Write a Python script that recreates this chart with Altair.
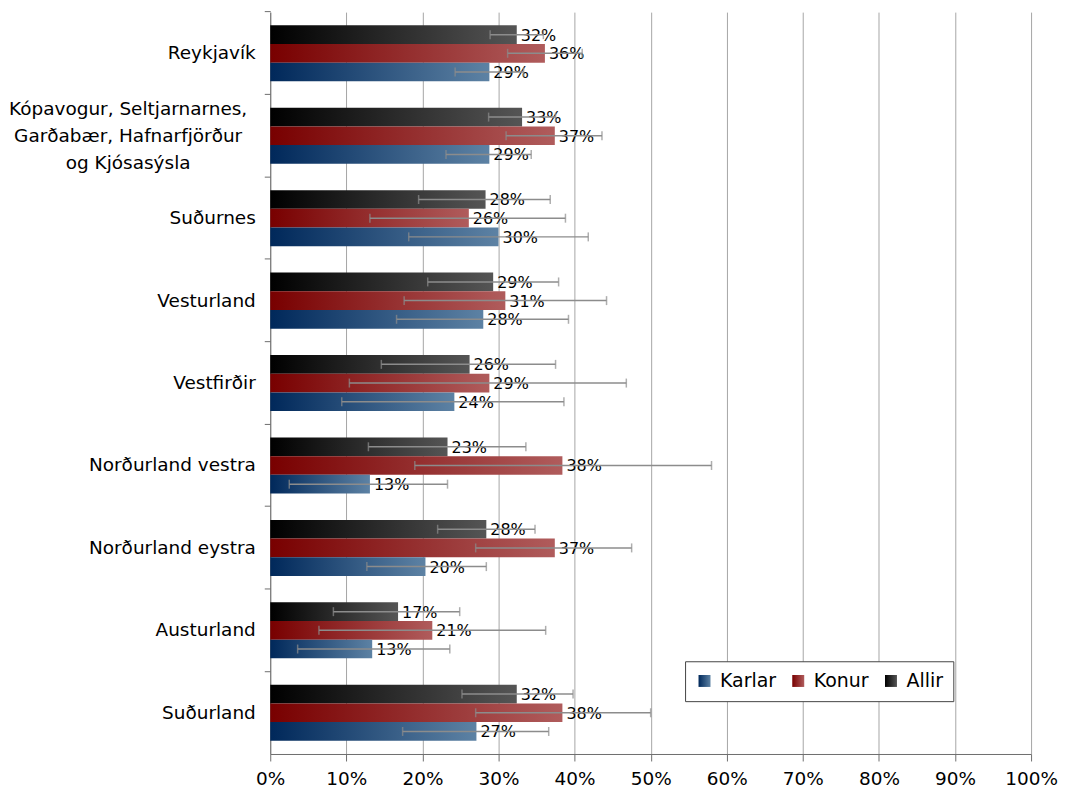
import altair as alt
import pandas as pd

regions = [
    "Reykjavík",
    "Kópavogur, Seltjarnarnes,\nGarðabær, Hafnarfjörður\nog Kjósasýsla",
    "Suðurnes",
    "Vesturland",
    "Vestfirðir",
    "Norðurland vestra",
    "Norðurland eystra",
    "Austurland",
    "Suðurland",
]
series_order = ["Allir", "Konur", "Karlar"]
legend_order = ["Karlar", "Konur", "Allir"]

allir = [32.4, 33.1, 28.3, 29.3, 26.2, 23.3, 28.4, 16.8, 32.4]
allir_lo = [28.9, 28.7, 19.5, 20.7, 14.6, 12.9, 22.0, 8.3, 25.2]
allir_hi = [35.9, 37.5, 36.8, 37.9, 37.5, 33.6, 34.8, 24.9, 39.8]

konur = [36.1, 37.4, 26.1, 30.9, 28.8, 38.4, 37.4, 21.3, 38.4]
konur_lo = [31.2, 31.0, 13.1, 17.6, 10.4, 19.0, 27.0, 6.4, 27.0]
konur_hi = [41.0, 43.6, 38.8, 44.2, 46.8, 58.0, 47.5, 36.2, 50.0]

karlar = [28.8, 28.8, 30.0, 28.0, 24.2, 13.1, 20.4, 13.4, 27.1]
karlar_lo = [24.3, 23.1, 18.2, 16.6, 9.4, 2.5, 12.7, 3.6, 17.4]
karlar_hi = [33.3, 34.3, 41.8, 39.2, 38.6, 23.3, 28.4, 23.6, 36.6]

x_ticks = [0, 10, 20, 30, 40, 50, 60, 70, 80, 90, 100]

rows = []
for i, r in enumerate(regions):
    for s, v, lo, hi in (
        ("Allir", allir, allir_lo, allir_hi),
        ("Konur", konur, konur_lo, konur_hi),
        ("Karlar", karlar, karlar_lo, karlar_hi),
    ):
        rows.append({"region": r, "series": s, "value": v[i], "lo": lo[i], "hi": hi[i]})
df = pd.DataFrame(rows)


def grad(c0, c1):
    return {
        "expr": "{gradient: 'linear', x1: 0, y1: 0, x2: 1, y2: 0, stops: "
        "[{offset: 0, color: '%s'}, {offset: 1, color: '%s'}]}" % (c0, c1)
    }


color_range = [
    grad("#00285a", "#5d82a4"),  # Karlar
    grad("#780000", "#b05c5c"),  # Konur
    grad("#000000", "#555555"),  # Allir
]

FONT = "DejaVu Sans"
GRID = "#a6a6a6"
AXISC = "#6e6e6e"
ERR = "#8c8c8c"

PAD_INNER = 0.32
PAD_OUTER = 0.16
TICK_POS = -(PAD_INNER / 2) / (1 - PAD_INNER)

xaxis = alt.Axis(
    values=x_ticks,
    labelExpr="datum.value + '%'",
    title=None,
    grid=True,
    gridColor=GRID,
    gridWidth=1,
    domainColor=AXISC,
    tickColor=AXISC,
    tickSize=7,
    labelFont=FONT,
    labelFontSize=18.5,
    labelColor="#000000",
    labelPadding=9,
    labelFlush=False,
    labelAlign="center",
)
xscale = alt.Scale(domain=[0, 100], nice=False, zero=True)

is_multi = "indexof(datum.value, 'Kópavogur') >= 0"

yaxis = alt.Axis(
    title=None,
    labelExpr="split(datum.label, '\\n')",
    labelFont=FONT,
    labelFontSize=18.5,
    labelColor="#000000",
    labelLineHeight=27,
    labelAlign={"condition": {"test": is_multi, "value": "center"}, "value": "right"},
    labelPadding={"condition": {"test": is_multi, "value": 137}, "value": 9},
    labelOffset={"condition": {"test": is_multi, "value": -27}, "value": 0},
    labelBaseline="middle",
    bandPosition=TICK_POS,
    tickSize=6,
    tickColor=AXISC,
    domainColor=AXISC,
    grid=False,
    labelLimit=400,
)

base = alt.Chart(df).encode(
    y=alt.Y(
        "region:N",
        sort=regions,
        scale=alt.Scale(paddingInner=PAD_INNER, paddingOuter=PAD_OUTER),
        axis=yaxis,
    ),
    yOffset=alt.YOffset(
        "series:N", sort=series_order, scale=alt.Scale(paddingInner=0, paddingOuter=0)
    ),
)

bars = base.mark_bar().encode(
    x=alt.X("value:Q", scale=xscale, axis=xaxis),
    color=alt.Color(
        "series:N",
        scale=alt.Scale(domain=legend_order, range=color_range),
        legend=alt.Legend(
            title=None,
            orient="none",
            legendX=416,
            legendY=651,
            direction="horizontal",
            columns=3,
            symbolType="square",
            symbolSize=144,
            symbolStrokeWidth=0,
            labelFont=FONT,
            labelFontSize=19,
            labelColor="#000000",
            labelOffset=6,
            columnPadding=12,
            padding=10,
            strokeColor="#444444",
            fillColor="#ffffff",
        ),
    ),
)

labels = base.transform_calculate(
    label="format(datum.value, '.0f') + '%'"
).mark_text(align="left", baseline="middle", dx=4, dy=1, font=FONT, fontSize=16, color="#000000").encode(
    x=alt.X("value:Q", scale=xscale, axis=xaxis),
    text="label:N",
)

rules = base.mark_rule(color=ERR, strokeWidth=1.5).encode(
    x=alt.X("lo:Q", scale=xscale, axis=xaxis),
    x2="hi:Q",
)

caps_lo = base.mark_tick(color=ERR, thickness=1.5, size=9, orient="vertical").encode(
    x=alt.X("lo:Q", scale=xscale, axis=xaxis),
)
caps_hi = base.mark_tick(color=ERR, thickness=1.5, size=9, orient="vertical").encode(
    x=alt.X("hi:Q", scale=xscale, axis=xaxis),
)

chart = (
    alt.layer(bars, labels, rules, caps_lo, caps_hi)
    .properties(
        width=763,
        height=744,
        autosize=alt.AutoSizeParams(type="none"),
        padding={"left": 263, "top": 3, "right": 27, "bottom": 40},
        background="#ffffff",
    )
    .configure_view(stroke=None)
)

chart.save("out.html", embed_options={"renderer": "svg", "actions": False})
